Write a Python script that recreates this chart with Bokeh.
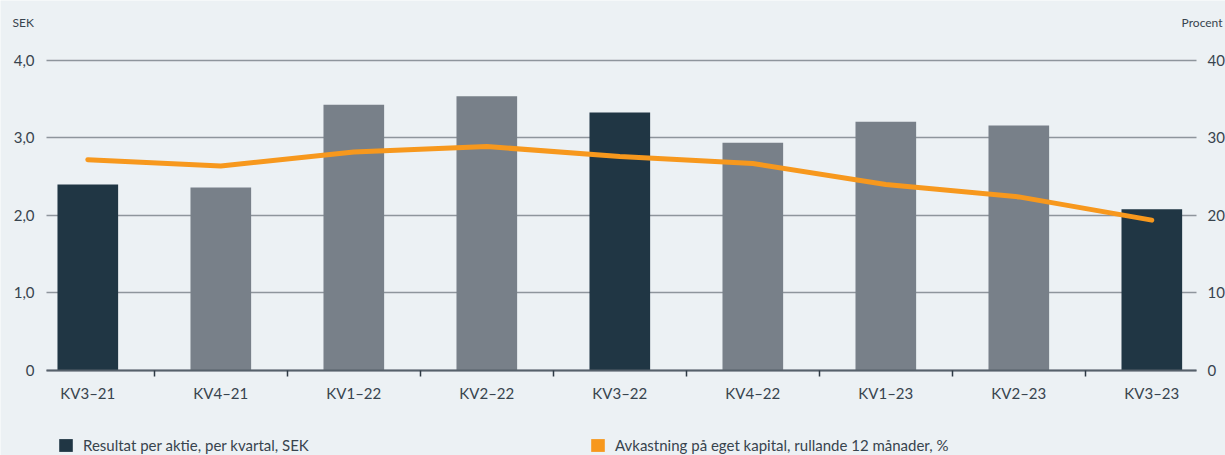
from bokeh.plotting import figure
from bokeh.models import (Range1d, LinearAxis, FixedTicker, Legend, LegendItem,
                          Label, ColumnDataSource)
from bokeh.embed import file_html
from bokeh.resources import INLINE

# ---- data ----
categories = ["KV3–21", "KV4–21", "KV1–22", "KV2–22", "KV3–22",
              "KV4–22", "KV1–23", "KV2–23", "KV3–23"]
eps = [2.40, 2.36, 3.43, 3.54, 3.33, 2.94, 3.21, 3.16, 2.08]
roe = [27.2, 26.4, 28.2, 28.9, 27.6, 26.7, 24.0, 22.4, 19.4]
left_ticks = [0, 1, 2, 3, 4]
left_labels = ["0", "1,0", "2,0", "3,0", "4,0"]
right_ticks = [0, 10, 20, 30, 40]
left_title = "SEK"
right_title = "Procent"
bar_label = "Resultat per aktie, per kvartal, SEK"
line_label = "Avkastning på eget kapital, rullande 12 månader, %"

# ---- style / layout ----
DARK = "#203644"
GRAY = "#788089"
ORANGE = "#f7981d"
BG = "#ecf1f4"
TEXT = "#38444e"
GRID = "#8e959c"
FONT = "Lato"
W, H = 1225, 455
X_LO, X_HI = -0.6564, 8.554      # view range (categories at 0..8)
AX_L, AX_R = -0.3105, 8.336      # where the value axes sit
Y_LO, Y_HI = -1.0968, 4.774
PCT = 10.0                       # right scale / left scale

idx = list(range(len(categories)))
colors = [DARK if c.startswith("KV3") else GRAY for c in categories]
src = ColumnDataSource(dict(x=idx, eps=eps, roe=roe, color=colors))

p = figure(width=W, height=H, output_backend="svg", toolbar_location=None,
           x_range=Range1d(X_LO, X_HI), y_range=Range1d(Y_LO, Y_HI),
           x_axis_type=None, y_axis_type=None,
           min_border_left=0, min_border_right=0, min_border_top=0,
           min_border_bottom=0, background_fill_color=BG,
           border_fill_color=BG, outline_line_color=None)
p.extra_y_ranges = {"pct": Range1d(Y_LO * PCT, Y_HI * PCT),
                    "hide": Range1d(1000, 2000)}

# left value axis; its inward ticks form the horizontal grid lines
ya = LinearAxis(ticker=FixedTicker(ticks=left_ticks), fixed_location=AX_L,
                level="underlay")
ya.major_label_overrides = {t: l for t, l in zip(left_ticks, left_labels)}
ya.axis_line_color = None
ya.minor_tick_line_color = None
ya.major_tick_out = 0
ya.major_tick_in = int(round((AX_R - AX_L) / (X_HI - X_LO) * W))
ya.major_tick_line_color = GRID
ya.major_tick_line_width = 1.5
ya.major_label_standoff = 12
ya.major_label_text_font = FONT
ya.major_label_text_font_size = "15px"
ya.major_label_text_color = TEXT
p.add_layout(ya, "left")

# right value axis
ra = LinearAxis(y_range_name="pct", ticker=FixedTicker(ticks=right_ticks),
                fixed_location=AX_R)
ra.axis_line_color = None
ra.major_tick_line_color = None
ra.minor_tick_line_color = None
ra.major_tick_out = 0
ra.major_label_standoff = 11
ra.major_label_text_font = FONT
ra.major_label_text_font_size = "15px"
ra.major_label_text_color = TEXT
p.add_layout(ra, "right")

# category axis at zero
xa = LinearAxis(ticker=FixedTicker(ticks=idx,
                                   minor_ticks=[i + 0.5 for i in idx[:-1]]),
                fixed_location=0, bounds=(AX_L, AX_R))
xa.major_label_overrides = {i: c for i, c in zip(idx, categories)}
xa.axis_line_color = "#56616b"
xa.axis_line_width = 2
xa.major_tick_line_color = None
xa.major_tick_out = 0
xa.minor_tick_in = 0
xa.minor_tick_out = 6
xa.minor_tick_line_color = "#2e3a44"
xa.minor_tick_line_width = 1.5
xa.major_label_standoff = 8
xa.major_label_text_font = FONT
xa.major_label_text_font_size = "15px"
xa.major_label_text_color = TEXT
p.add_layout(xa, "below")

bars = p.vbar(x="x", top="eps", width=0.456, fill_color="color",
              line_color=None, source=src)
p.line(x="x", y="roe", y_range_name="pct", line_color=ORANGE, line_width=5,
       line_join="round", line_cap="round", source=src)
# legend swatch for the line series (kept out of view on its own range)
swatch = p.vbar(x="x", top="roe", width=0.456, fill_color=ORANGE,
                line_color=None, source=src, y_range_name="hide")

common = dict(orientation="horizontal", padding=0, margin=0, spacing=0,
              glyph_width=17, glyph_height=16, label_height=16,
              label_standoff=9, background_fill_alpha=0, border_line_alpha=0,
              label_text_font=FONT, label_text_font_size="15px",
              label_text_color=TEXT, label_text_baseline="middle")
p.add_layout(Legend(items=[LegendItem(label=bar_label, renderers=[bars],
                                      index=0)],
                    location=(57, 1.5), **common), "center")
p.add_layout(Legend(items=[LegendItem(label=line_label, renderers=[swatch],
                                      index=0)],
                    location=(589, 1.5), **common), "center")

# axis titles
p.add_layout(Label(x=12, y=H - 21.5, x_units="screen", y_units="screen",
                   text=left_title, text_font=FONT, text_font_size="12px",
                   text_color=TEXT, text_baseline="middle", text_align="left"))
p.add_layout(Label(x=1222, y=H - 21.5, x_units="screen", y_units="screen",
                   text=right_title, text_font=FONT, text_font_size="12px",
                   text_color=TEXT, text_baseline="middle", text_align="right"))

open("out.html", "w").write(file_html(p, INLINE))
